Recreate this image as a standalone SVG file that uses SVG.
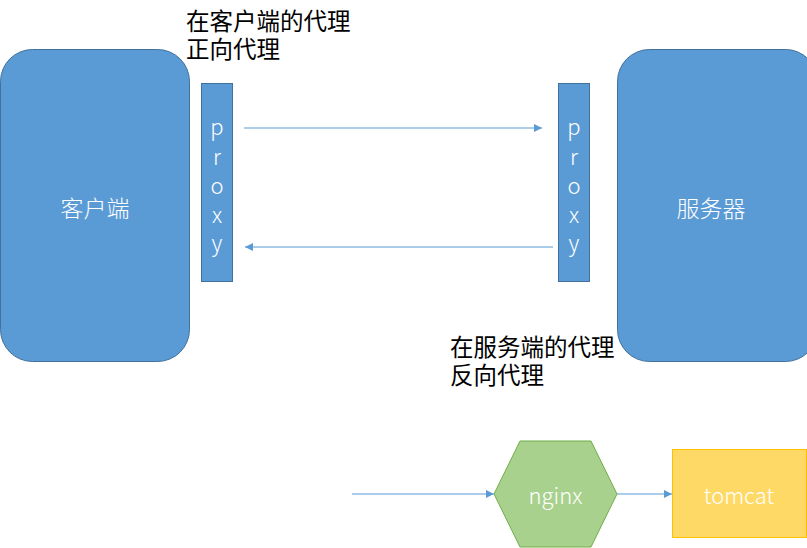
<svg xmlns="http://www.w3.org/2000/svg" width="807" height="548" viewBox="0 0 807 548">
<style>
.blue{fill:#5B9BD5;stroke:#41719C;stroke-width:1}
.wt{fill:#fff;font-family:"Noto Sans CJK SC","Liberation Sans",sans-serif;font-size:23px;font-weight:300;text-anchor:middle;dominant-baseline:central}
.lt{fill:#fff;font-family:"Noto Sans CJK SC","Liberation Sans",sans-serif;font-size:22px;font-weight:300;text-anchor:middle;dominant-baseline:central}
.pt{fill:#fff;font-family:"Noto Sans CJK SC","Liberation Sans",sans-serif;font-size:22px;font-weight:300;text-anchor:middle;dominant-baseline:central}
.bt{fill:#000;font-family:"Noto Sans CJK SC","Liberation Sans",sans-serif;font-size:23.5px}
.ln{stroke:#5B9BD5;stroke-width:1.2;fill:none;marker-end:url(#ah)}
</style>
<defs>
<marker id="ah" viewBox="0 0 10 10" refX="10" refY="5" markerWidth="8" markerHeight="8" markerUnits="userSpaceOnUse" orient="auto">
<path d="M0,0 L10,5 L0,10 z" fill="#5B9BD5"/>
</marker>
</defs>
<rect width="807" height="548" fill="#fff"/>
<g id="client">
<rect class="blue" x="0.5" y="49.5" width="189" height="312" rx="32" ry="32"/>
<text class="wt" x="95" y="207">客户端</text>
</g>
<g id="server">
<rect class="blue" x="617.5" y="49.5" width="200" height="312" rx="32" ry="32"/>
<text class="wt" x="711" y="207">服务器</text>
</g>
<g id="proxy-left">
<rect class="blue" x="201.5" y="83.5" width="31" height="198"/>
<text class="pt" x="217" y="125">p</text>
<text class="pt" x="217" y="155">r</text>
<text class="pt" x="217" y="184">o</text>
<text class="pt" x="217" y="213">x</text>
<text class="pt" x="217" y="241">y</text>
</g>
<g id="proxy-right">
<rect class="blue" x="558.5" y="83.5" width="31" height="198"/>
<text class="pt" x="574" y="125">p</text>
<text class="pt" x="574" y="155">r</text>
<text class="pt" x="574" y="184">o</text>
<text class="pt" x="574" y="213">x</text>
<text class="pt" x="574" y="241">y</text>
</g>
<g id="label-forward">
<text class="bt" x="186" y="30">在客户端的代理</text>
<text class="bt" x="186" y="58">正向代理</text>
</g>
<g id="label-reverse">
<text class="bt" x="450" y="356">在服务端的代理</text>
<text class="bt" x="450" y="384">反向代理</text>
</g>
<g id="nginx">
<polygon points="494,494 520,441 591,441 617,494 591,547 520,547" fill="#A9D18E" stroke="#70AD47" stroke-width="1"/>
<text class="lt" x="555.5" y="494">nginx</text>
</g>
<g id="tomcat">
<rect x="672.5" y="449.5" width="134" height="88" fill="#FFD966" stroke="#FFC000" stroke-width="1"/>
<text class="lt" x="739" y="494">tomcat</text>
</g>
<g id="connectors">
<line class="ln" x1="244" y1="128" x2="542" y2="128"/>
<line class="ln" x1="553" y1="247" x2="245" y2="247"/>
<line class="ln" x1="352" y1="494" x2="494" y2="494"/>
<line class="ln" x1="617" y1="494" x2="672" y2="494"/>
</g>
</svg>
